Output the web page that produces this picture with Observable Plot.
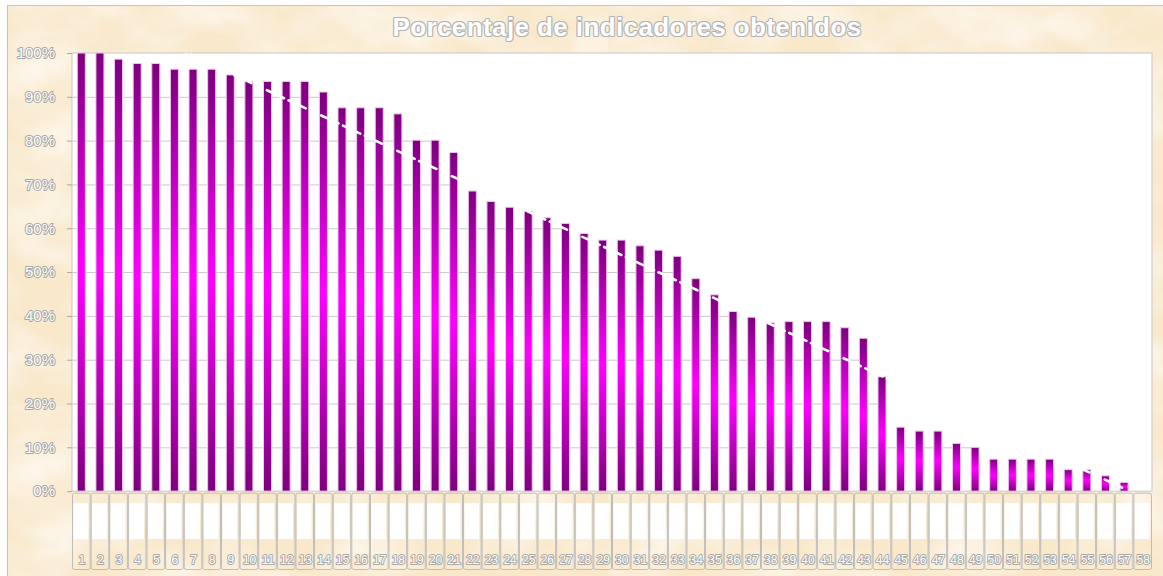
<!DOCTYPE html>
<html>
<head>
<meta charset="utf-8">
<script src="https://cdn.jsdelivr.net/npm/d3@7"></script>
<script src="https://cdn.jsdelivr.net/npm/@observablehq/plot@0.6"></script>
<style>
html, body { margin: 0; padding: 0; background: #ffffff; }
#wrap { position: relative; width: 1163px; height: 576px; overflow: hidden; font-family: "Liberation Sans", Arial, sans-serif; }
#bg { position: absolute; left: 7px; top: 5px; width: 1170px; height: 590px;
  border-left: 1px solid #c4c4c4; border-top: 1px solid #c4c4c4;
  background-color: #f9e8ca;
  background-image: url("data:image/svg+xml,%3Csvg xmlns='http://www.w3.org/2000/svg' width='600' height='400'%3E%3Cfilter id='n'%3E%3CfeTurbulence type='fractalNoise' baseFrequency='0.012 0.02' numOctaves='4' seed='3' stitchTiles='stitch'/%3E%3CfeColorMatrix values='0 0 0 0 1 0 0 0 0 1 0 0 0 0 1 0 0 0 1.2 -0.42'/%3E%3C/filter%3E%3Crect width='100%25' height='100%25' filter='url(%23n)'/%3E%3C/svg%3E");
}
#title { position: absolute; left: 0; top: 12px; width: 1254px; margin: 0; text-align: center;
  font-size: 26px; font-weight: bold; letter-spacing: 0.4px; color: #ffffff;
  text-shadow: -1px 0 #b2b2b2, 1px 0 #b2b2b2, 0 -1px #b2b2b2, 0 1px #b2b2b2, -1px -1px #c4c4c4, 1px 1px #c4c4c4, 1px -1px #c4c4c4, -1px 1px #c4c4c4;
}
#chart { position: absolute; left: 0; top: 0; }
[aria-label="ylabels"] text { letter-spacing: 1px; }
[aria-label="xlabels"] text { letter-spacing: 0.3px; }
</style>
</head>
<body>
<div id="wrap">
  <div id="bg"></div>
  <div id="chart"></div>
  <h1 id="title">Porcentaje de indicadores obtenidos</h1>
</div>
<script>
// ---- data ----
const categories = [1,2,3,4,5,6,7,8,9,10,11,12,13,14,15,16,17,18,19,20,21,22,23,24,25,26,27,28,29,30,
  31,32,33,34,35,36,37,38,39,40,41,42,43,44,45,46,47,48,49,50,51,52,53,54,55,56,57,58];
const values = [100,100,98.6,97.6,97.6,96.3,96.3,96.3,95.0,93.5,
  93.5,93.5,93.5,91.1,87.5,87.5,87.5,86.1,80.1,80.1,
  77.3,68.5,66.1,64.8,63.8,62.4,61.1,58.8,57.3,57.3,
  56.0,55.0,53.6,48.5,44.8,41.0,39.7,38.4,38.7,38.7,
  38.7,37.3,34.9,26.1,14.6,13.7,13.7,10.9,10.0,7.3,
  7.3,7.3,7.3,4.9,4.9,3.5,2.0,0];
const yTicks = [0,10,20,30,40,50,60,70,80,90,100];
const yLabels = ["0%","10%","20%","30%","40%","50%","60%","70%","80%","90%","100%"];

const rows = categories.map((c, i) => ({cat: c, value: values[i]}));

// linear trend (least squares over category index 1..n)
const xs = categories.map((c, i) => i + 1);
const mx = d3.mean(xs), my = d3.mean(values);
const slope = d3.sum(xs, (x, i) => (x - mx) * (values[i] - my)) / d3.sum(xs, x => (x - mx) ** 2);
const intercept = my - slope * mx;
const trend = rows.map((r, i) => ({cat: r.cat, fit: intercept + slope * (i + 1)})).filter(d => d.fit >= 0);

const yTop = d3.max(yTicks);
const yBase = d3.min(yTicks);
const yLow = -18; // extent of the category label strip below the axis
const plotArea = [{lo: yBase, hi: yTop}];

// gridline pieces: visible only in the gaps between two bars that both reach the tick level
const gridBits = [];
for (let i = 0; i < rows.length - 1; i++) {
  const m = Math.min(values[i], values[i + 1]);
  for (const t of yTicks) if (t > yBase && t < yTop && t <= m) gridBits.push({cat: categories[i], t});
}
for (const t of yTicks) if (t > yBase && t < yTop && t <= values[0]) gridBits.push({cat: categories[0], t, first: true});

const W = 1163, mL = 72, mR = 11;
const step = (W - mL - mR) / categories.length;

const defs = () => {
  const ns = "http://www.w3.org/2000/svg";
  const d = document.createElementNS(ns, "defs");
  d.innerHTML = `<linearGradient id="barGrad" x1="0" y1="0" x2="0" y2="1">
      <stop offset="0" stop-color="#7d007d"/>
      <stop offset="0.5" stop-color="#ff00ff"/>
      <stop offset="1" stop-color="#7d007d"/>
    </linearGradient>`;
  return d;
};

const chart = Plot.plot({
  width: W,
  height: 576,
  marginTop: 53,
  marginBottom: 6,
  marginLeft: mL,
  marginRight: mR,
  style: {background: "transparent", fontFamily: "'Liberation Sans', Arial, sans-serif", overflow: "visible"},
  x: {type: "band", domain: categories, padding: 0, axis: null},
  y: {domain: [yLow, yTop], axis: null},
  marks: [
    defs,
    // plot area
    Plot.barY(plotArea, {y1: "lo", y2: "hi", fill: "#ffffff", stroke: "#c8c8c8", strokeWidth: 1}),
    // gridline pieces between bars
    Plot.tickY(gridBits.filter(d => !d.first), {x: "cat", y: "t", dx: step / 2, stroke: "#c9c9c9", strokeWidth: 1}),
    Plot.tickY(gridBits.filter(d => d.first), {x: "cat", y: "t", insetRight: step / 2, stroke: "#c9c9c9", strokeWidth: 1}),
    // y ticks
    Plot.axisY(yTicks, {anchor: "left", tickSize: 5, stroke: "#a8a8a8", fill: "none", tickFormat: () => ""}),
    // y labels
    Plot.text(yTicks, {y: d => d, text: (d, i) => yLabels[i], frameAnchor: "left", dx: -17.5, textAnchor: "end",
      fontSize: 15, fill: "#ffffff", stroke: "#a6a6a6", strokeWidth: 2, paintOrder: "stroke", ariaLabel: "ylabels"}),
    // category label boxes
    Plot.barY(categories, {x: d => d, y1: () => yLow, y2: () => yBase, insetTop: 2, insetBottom: 0.5, insetLeft: 0.5, insetRight: 0.5,
      fill: "none", stroke: "#bdbdbd", strokeWidth: 1, rx: 2}),
    Plot.barY(categories, {x: d => d, y1: () => yLow, y2: () => yBase, insetTop: 12, insetBottom: 31, insetLeft: 1.5, insetRight: 2.5,
      fill: "#ffffff"}),
    Plot.text(categories, {x: d => d, y: () => yLow, dy: -10, text: d => String(d), fontSize: 12,
      fill: "#ffffff", stroke: "#a8a8a8", strokeWidth: 2, paintOrder: "stroke", ariaLabel: "xlabels"}),
    // bars
    Plot.barY(rows.filter(d => d.value > 0), {x: "cat", y: "value", fill: "url(#barGrad)", stroke: "#efc6ef", strokeWidth: 1,
      insetLeft: 5.3, insetRight: 5.3}),
    // trend line
    Plot.lineY(trend, {x: "cat", y: "fit", stroke: "#ffffff", strokeWidth: 2.6, strokeDasharray: "7,5", clip: true})
  ]
});
document.getElementById("chart").appendChild(chart);
</script>
</body>
</html>
